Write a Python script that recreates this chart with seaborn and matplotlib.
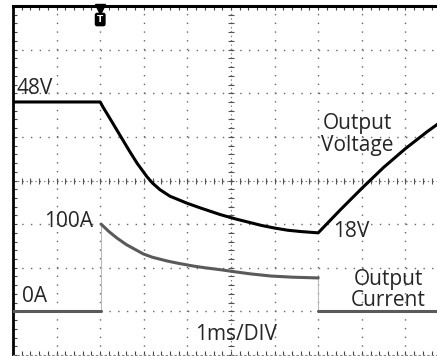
import numpy as np
import pandas as pd
import matplotlib
matplotlib.use("Agg")
import matplotlib.pyplot as plt
from matplotlib.ticker import MultipleLocator
import seaborn as sns

# Output voltage trace (time in ms, volts)
volt_t = [0.0, 1.0, 2.0, 2.06, 2.2, 2.38, 2.5, 2.68, 2.85, 3.07, 3.2, 3.37, 3.6,
          3.99, 4.3, 4.75, 5.1, 5.46, 5.7, 6.0, 6.3, 6.6, 7.0,
          7.5, 8.0, 8.5, 9.0, 9.5, 10.0]
volt_v = [48, 48, 48, 46.9, 44.6, 41.6, 39.6, 36.6, 33.9, 30.9, 29.4, 27.9, 26.4,
          24.8, 23.7, 22.2, 21.2, 20.3, 19.7, 19.1, 18.6, 18.3, 18,
          23.2, 28.2, 33.0, 37.3, 41.2, 44.8]

# Output current trace (time in ms, amps)
curr_t = [0.0, 2.02, 2.02, 2.2, 2.38, 2.6, 2.99, 3.2, 3.53, 3.8, 4.13, 4.4, 4.75,
          5.1, 5.46, 5.92, 6.4, 7.0, 7.0, 10.0]
curr_a = [0, 0, 100, 91.5, 84.2, 76.5, 65.8, 62.0, 57.8, 55.0, 52.0, 50.0, 47.8,
          45.3, 42.9, 40.5, 39.2, 38.3, 0, 0]

trigger_t = 2.0

sns.set_style("white")
plt.rcParams["font.family"] = ["Open Sans", "DejaVu Sans"]
plt.rcParams["lines.scale_dashes"] = False

fig = plt.figure(figsize=(4.37, 3.56), dpi=100)
ax = fig.add_axes([13 / 437, 1 / 356, 436 / 437, 349 / 356])
ax.set_xlim(0, 10)          # 1 ms/div
ax.set_ylim(-10, 70)        # 10 V/div, 0 V one division up

# scope graticule: dotted lines every division
dot = (0, (1.0, 5.28))
for t in range(1, 10):
    ax.axvline(t, color="#666666", lw=1.0, ls=dot, zorder=1)
for v in range(0, 70, 10):
    ax.axhline(v, color="#666666", lw=1.0, ls=dot, zorder=1)
# centre cross with sub-division marks
ax.axvline(5, color="#777777", lw=0.8, ls=(0, (1.0, 2.14)), zorder=1)
ax.axhline(30, color="#777777", lw=0.8, ls=(0, (1.0, 2.14)), zorder=1)
ax.plot(np.full(41, 5.0), np.arange(-10, 70.1, 2), ls="none", marker="_",
        ms=5, mew=0.8, color="#555555", zorder=1)
ax.plot(np.arange(0, 10.01, 0.2), np.full(51, 30.0), ls="none", marker="|",
        ms=5, mew=0.8, color="#555555", zorder=1)

ax.xaxis.set_major_locator(MultipleLocator(1))
ax.xaxis.set_minor_locator(MultipleLocator(0.2))
ax.yaxis.set_major_locator(MultipleLocator(10))
ax.yaxis.set_minor_locator(MultipleLocator(2))
ax.tick_params(axis="x", which="both", direction="in", top=True, bottom=True,
               labelbottom=False, labeltop=False, length=3, width=0.8,
               color="#444444")
ax.tick_params(axis="y", which="both", direction="in", left=True, right=False,
               labelleft=False, length=3, width=0.8, color="#444444")

for side in ("top", "left"):
    ax.spines[side].set_color("black")
ax.spines["top"].set_linewidth(2.2)
ax.spines["left"].set_linewidth(2.0)
ax.spines["right"].set_visible(False)
ax.spines["bottom"].set_color("#888888")
ax.spines["bottom"].set_linewidth(0.8)
ax.spines["bottom"].set_linestyle((0, (1.0, 2.14)))

# voltage trace
volt_df = pd.DataFrame({"t": volt_t, "V": volt_v})
sns.lineplot(data=volt_df, x="t", y="V", ax=ax, color="black", lw=2.2,
             estimator=None, sort=False, zorder=4)

# current trace on its own scale (50 A/div, 0 A one division up)
ax2 = ax.twinx()
ax2.set_ylim(-50, 350)
for s in ax2.spines.values():
    s.set_visible(False)
ax2.tick_params(right=False, labelright=False)

curr_df = pd.DataFrame({"t": curr_t, "A": curr_a})
n = len(curr_t)
for a, b in [(0, 2), (2, n - 2), (n - 2, n)]:
    sns.lineplot(data=curr_df.iloc[a:b], x="t", y="A", ax=ax2, color="#5a5a5a",
                 lw=2.2, estimator=None, sort=False, zorder=3)
for a, b in [(1, 3), (n - 3, n - 1)]:
    sns.lineplot(data=curr_df.iloc[a:b], x="t", y="A", ax=ax2, color="#bbbbbb",
                 lw=0.8, estimator=None, sort=False, zorder=2)
ax2.set_ylabel("")
ax.set_xlabel("")
ax.set_ylabel("")

# trigger marker
ax.plot(trigger_t, 69.4, marker="v", ms=7, color="black", clip_on=False, zorder=6)
ax.text(trigger_t, 66.9, "T", color="white", fontsize=6.5, fontweight="bold",
        family="DejaVu Sans", ha="center", va="center", zorder=6,
        bbox=dict(boxstyle="round,pad=0.18", fc="black", ec="black"))

fs = 15
ax.text(0.07, 51.2, "48V", fontsize=fs, ha="left", va="center", zorder=7)
ax.text(7.34, 18.4, "18V", fontsize=fs, ha="left", va="center", zorder=7)
ax.text(7.89, 40.5, "Output\nVoltage", fontsize=fs, ha="center", va="center",
        linespacing=1.05, zorder=7)
ax2.text(1.83, 103, "100A", fontsize=fs, ha="right", va="center", zorder=7)
ax2.text(0.2, 16.5, "0A", fontsize=fs, ha="left", va="center", zorder=7)
ax2.text(8.6, 24.5, "Output\nCurrent", fontsize=fs, ha="center", va="center",
         linespacing=1.05, zorder=7)
ax.text(5.11, -5.2, "1ms/DIV", fontsize=fs, ha="center", va="center", zorder=7)

fig.savefig("out.png", dpi=100)
